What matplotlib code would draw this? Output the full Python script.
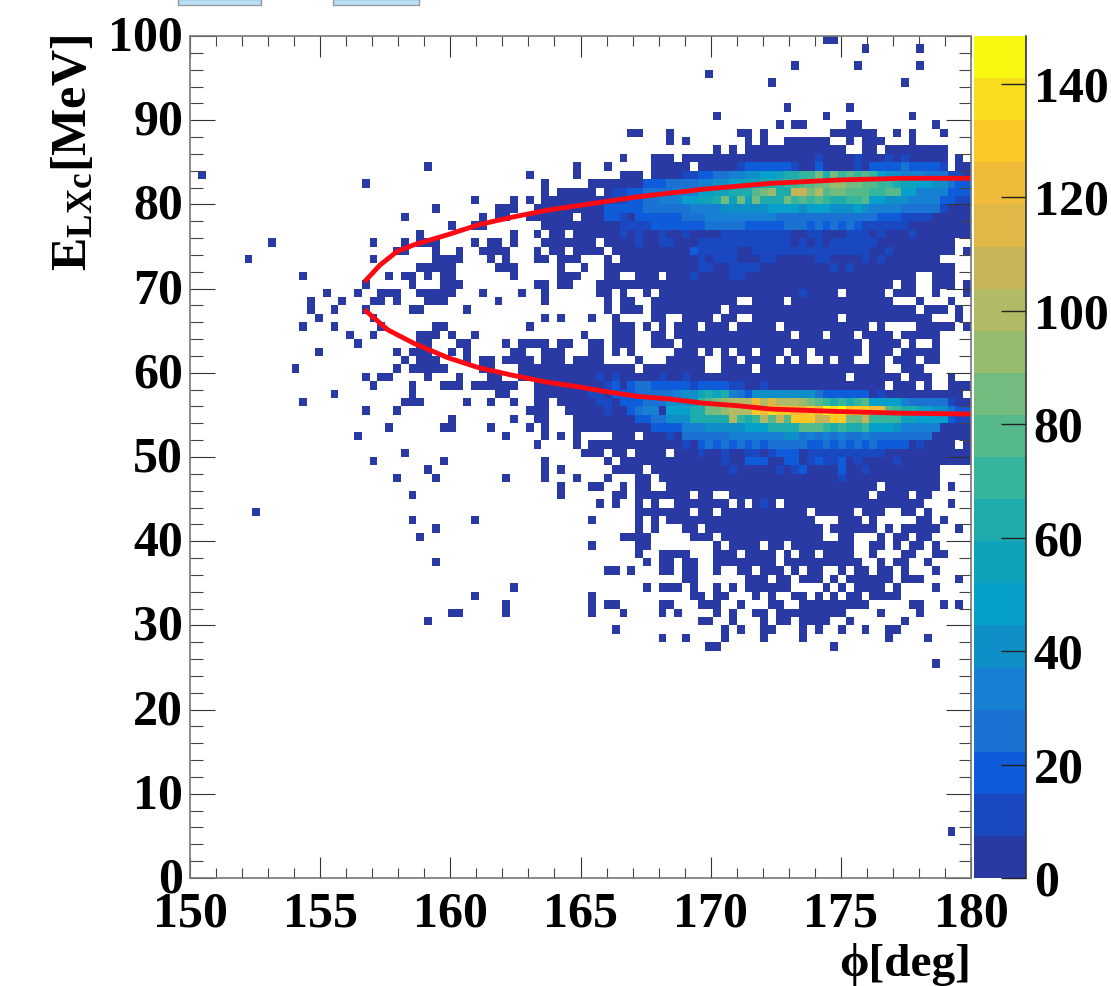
import matplotlib

matplotlib.use("Agg")
import matplotlib.pyplot as plt
import numpy as np
from matplotlib.colors import BoundaryNorm, ListedColormap
from matplotlib.patches import Rectangle
from matplotlib.transforms import ScaledTranslation

plt.rcParams["font.family"] = ["Liberation Serif", "DejaVu Serif"]
plt.rcParams["font.weight"] = "bold"
plt.rcParams["mathtext.fontset"] = "custom"
plt.rcParams["mathtext.rm"] = "Liberation Serif:bold"
plt.rcParams["mathtext.bf"] = "Liberation Serif:bold"

# palette bands, bottom to top
band_colors = [
    "#2a3aa5", "#1a48c0", "#0f5cdb", "#1a72d2", "#1681d3",
    "#0f8fc8", "#07a0cb", "#0ea3bb", "#1dabab", "#35b59b",
    "#55b98c", "#74bb80", "#97bc70", "#b2ba65", "#c9b358",
    "#e0b848", "#f0bb38", "#fcc826", "#f8dd1e", "#f8f810",
]
z_max = 148.4

phi_edges = np.linspace(150, 180, 101)
energy_edges = np.linspace(0, 100, 101)

# occupied bins per energy row (1 MeV), column index of 0.3 deg phi bins
occupied = {
    99: "81-82", 98: "86 93", 96: "77 85 93", 95: "66", 94: "74 91", 91: "76 84",
    90: "67 81 92", 89: "75 77-78 84-85 95",
    88: "56-57 61 70-71 73 82-87 90 92 96",
    87: "61 63 71 73 76-81 84 86-88 92",
    86: "67 69 71-83 86-87 89-96",
    85: "55 59-61 63-96 98",
    84: "30 49 53 59-63 65-96 98-99",
    83: "1 43 49 55-57 59-99",
    82: "22 45 51-99",
    81: "45 47 48-51 53-99",
    80: "36 41 43 45-47 48-98",
    79: "31 39-41 44-47 48-99",
    78: "27 37 39-40 43-47 48 50-99",
    77: "33 36-37 45-47 48-99",
    76: "29 41 44 46-47 49-99",
    75: "10 23 27 29-31 36 38-39 41 45-47 48-51 53-97",
    74: "26-27 31 34 37-40 44 46-47 49-52 54-97 99",
    73: "7 23 31-34 38 40 44-45 47 48-49 53 55-95",
    72: "29-33 39-41 47 50 53-97",
    71: "14 25 27-28 30 32-33 41 47 48-49 53-54 57-59 61-92 95-97",
    70: "22 28 32-34 44-45 47 48 52-89 91-92 95-97 99",
    69: "17 21 24-26 29-33 37 42 45 52-53 55 58 60-82 84-88 90-92 95 99",
    68: "15 19 23-24 26 30-32 39 45 53 55-56 59-69 72-75 77-89 93 97",
    67: "15 18 22 28-29 35 53 55-57 59-67 69-92 94-96 98",
    66: "16 23 45 47 51 54 59-60 63-66 68-69 72-82 84-94 98",
    65: "14 18 24 31-32 43 54-56 58 60 62-64 66-68 70-74 76-86 88 93-97 99",
    64: "20 23 29-31 33 36 50 54-56 59-60 62-76 78-80 82-84 86-89 91-95",
    63: "21 29-30 34-35 40 42-45 47-48 51-52 54-56 59-61 63-85 87-90 92 95",
    62: "16 26 28-30 33 35 41-42 45-47 51-52 54 56 62-64 66 68 70-71 73-75 77-78 80-85 87-89 91-95",
    61: "27 29-31 35 37-38 40-43 45-47 49-52 57 61-65 68-69 71-74 76 78 81 83-84 87-88 90-92 94-95",
    60: "13 26 28-32 37-38 42-47 48-56 58-65 68-71 73-88 91-93",
    59: "22 24-25 30 34 38-39 42-48 49-83 85-90 92-94 97",
    58: "23 28 32-34 36-41 44-47 48-88 90-92 94 97-99",
    57: "18 28 39-40 44-47 48-98",
    56: "14 27-29 35 38 41 44-45 47 48-99",
    55: "22 26 43-45 48-99",
    54: "33 41 44-45 49-99",
    53: "25 32-33 38 43 45 49-99",
    52: "21 40 45 47 49 54-56 58-99",
    51: "44 49 51-97 99",
    50: "27 50-52 54-55 57-60 62-99",
    49: "23 32 45 53 55-99",
    48: "30 45 47 54-57 59-95",
    47: "26 31 40 45 49 53 57-58 60-95",
    46: "47 51-52 55 57-58 61-87 89-95 97",
    45: "28 47 54-55 57-63 65-66 69-86 88-91 93-94",
    44: "52 54 57 59 62-68 70 72-74 76-93 97",
    43: "8 57-63 65-66 68-78 80-84 86-88 91-92 94",
    42: "28 36 51 57 59 61-79 83-85 87 93-94 96",
    41: "31 57 59 63-64 66-80 82-87 89 91-95 98",
    40: "29 55-58 64-66 68-80 83-84 88 90-91 93-94",
    39: "51 57-58 67 69-72 74-75 77-84 87-88 90 92-93 95",
    38: "57 60-63 67-69 71-74 76 78-79 81-84 87 91-92 95-96",
    37: "31 58 60-61 63-64 67-74 76-85 88 90-91 94",
    36: "53-54 56 60-61 63-64 67 70-71 73-75 77 79-80 83 85-86 88-89 91 95",
    35: "63-64 71-73 75-76 78-80 82 84-89 91-93 98",
    34: "41 58 60-62 64 67 69 71-76 81 83 85-88 90 95",
    33: "36 51 64-65 67-68 72 74 77-78 80 82 84-85 87-90",
    32: "40 51 53-54 60-61 65-67 70 74-75 78-86 92-93 96 98",
    31: "33-34 40 51 55 60 62 67 69 72-73 75-83 88 93",
    30: "30 65-66 69 73 75-76 78-81 84 91",
    29: "54 68 70 73-74 78 80 83 86 89-90",
    28: "60 63 68 73 78 89 94",
    27: "66-67 82",
    25: "95",
    5: "97",
}

# bins above the lowest palette band: row, first column, one band digit per column
ridge_cells = [
    (85, 80, "1"), (85, 85, "1"), (85, 89, "1"), (85, 91, "1"),
    (84, 70, "12222221"), (84, 80, "2"), (84, 85, "1"), (84, 87, "2222322221"),
    (83, 63, "11223344556678899b8b9a9a965544433311"),
    (82, 58, "22233334455677788899aabbccbbaa998776655322"),
    (81, 54, "112233334446677888abc88eebdabbaaa99aa664444222"),
    (80, 54, "11223344466778b7b7b888b9a9a98899a6655544442211"),
    (79, 53, "22222333333444455555566665666555654444333331"),
    (78, 53, "221022222233344444444433333333333332221111"),
    (77, 55, "1111222222233333222223332323232111111"),
    (76, 55, "1"), (76, 57, "1"), (76, 60, "1"), (76, 63, "1"), (76, 68, "111111111"),
    (76, 79, "11"), (76, 84, "111"), (76, 88, "1"), (76, 92, "1"),
    (75, 57, "1"), (75, 60, "11"), (75, 65, "111111111111"), (75, 78, "1"), (75, 80, "1"),
    (75, 82, "111111"),
    (74, 64, "211111"), (74, 72, "111111111111111"), (74, 89, "1"),
    (73, 65, "1"), (73, 67, "111"), (73, 73, "11"), (73, 80, "11"), (73, 86, "1"), (73, 88, "1"),
    (72, 65, "11"), (72, 69, "1111"), (72, 82, "1"), (72, 84, "1"),
    (71, 64, "1"), (71, 69, "11"), (69, 78, "1"),
    (59, 52, "1"), (59, 54, "1"), (59, 60, "1"), (59, 63, "1"),
    (58, 53, "12"), (58, 56, "2332"), (58, 60, "2222"), (58, 64, "1222211"), (58, 73, "1"),
    (57, 51, "11"), (57, 54, "22"), (57, 56, "23333"), (57, 61, "3455"), (57, 65, "7878"),
    (57, 69, "432"), (57, 72, "55555555"), (57, 80, "3222222"), (57, 88, "1"),
    (56, 52, "11"), (56, 55, "222333"), (56, 61, "5555"),
    (56, 65, "9abcdddgdfdddcba98989a6666433333"), (56, 97, "1"),
    (55, 53, "1"), (55, 56, "2344"), (55, 61, "66688bbcdddhgihhgghgjijhhhgg"),
    (55, 89, "a9887655322"),
    (54, 57, "223355588888d989dae"), (54, 76, "ahhheehhbbe9999776666211"),
    (53, 59, "222244455555666888" "8aaa989889666544444"),
    (52, 61, "1"), (52, 63, "333333"), (52, 69, "4444444"), (52, 76, "55"),
    (52, 78, "3434343343"), (52, 88, "3333333"),
    (51, 63, "1"), (51, 65, "2323232323"), (51, 75, "3333"), (51, 79, "2232323232222"), (51, 93, "1"),
    (50, 65, "1"), (50, 68, "1"), (50, 71, "11"), (50, 74, "1222"), (50, 79, "1111"), (50, 83, "111111"),
    (49, 68, "1"), (49, 71, "222"), (49, 76, "22"), (49, 79, "12112"), (49, 85, "1"), (49, 90, "1"),
    (48, 69, "1"), (48, 75, "1"), (48, 77, "12"), (48, 83, "2"), (48, 86, "1"),
    (47, 83, "1"), (44, 73, "1"),
]

# fitted curve, two branches
upper_phi = [156.7, 157.3, 157.95, 158.6, 159.9, 161.1, 162.4, 163.7, 165.0, 167.2, 169.7, 172.3, 174.9, 177.4, 180.0]
upper_energy = [70.8, 72.8, 74.4, 75.2, 76.4, 77.6, 78.5, 79.3, 79.9, 80.9, 81.8, 82.5, 82.9, 83.1, 83.1]
lower_phi = [156.7, 157.3, 157.6, 158.6, 159.9, 161.1, 162.4, 163.7, 165.0, 165.9, 167.2, 168.4, 169.7, 171.0, 172.3, 174.9, 177.4, 180.0]
lower_energy = [67.5, 65.9, 65.1, 63.5, 61.8, 60.6, 59.7, 58.9, 58.3, 57.8, 57.2, 56.9, 56.4, 56.1, 55.7, 55.4, 55.2, 55.1]

x_ticks = [150, 155, 160, 165, 170, 175, 180]
y_ticks = [0, 10, 20, 30, 40, 50, 60, 70, 80, 90, 100]
z_ticks = [0, 20, 40, 60, 80, 100, 120, 140]

band_width = z_max / len(band_colors)
counts = np.full((100, 100), np.nan)
for row, spec in occupied.items():
    for part in spec.split():
        first, _, last = part.partition("-")
        counts[row, int(first) : int(last or first) + 1] = 0.5 * band_width
for row, col, digits in ridge_cells:
    for offset, digit in enumerate(digits):
        if col + offset < 100:
            counts[row, col + offset] = (int(digit, 20) + 0.5) * band_width

W, H = 1111, 986
figure = plt.figure(figsize=(W / 100, H / 100), dpi=100)
axes = figure.add_axes([190 / W, 1 - 878 / H, 781 / W, 842 / H])

cmap = ListedColormap(band_colors)
norm = BoundaryNorm(np.linspace(0, z_max, len(band_colors) + 1), cmap.N)
mesh = axes.pcolormesh(phi_edges, energy_edges, counts, cmap=cmap, norm=norm, linewidth=0, rasterized=True)
axes.plot(upper_phi, upper_energy, color="#fb0a14", linewidth=3.5, solid_capstyle="butt")
axes.plot(lower_phi, lower_energy, color="#fb0a14", linewidth=3.5, solid_capstyle="butt")

axes.set_xlim(150, 180)
axes.set_ylim(0, 100)
axes.set_xticks(x_ticks)
axes.set_yticks(y_ticks)
axes.set_xticks(np.arange(150, 181, 1), minor=True)
axes.set_yticks(np.arange(0, 101, 2), minor=True)
axes.tick_params(axis="x", which="major", direction="in", top=True, length=15, width=0.8, color="#333333", labelsize=36, pad=10)
axes.tick_params(axis="x", which="minor", direction="in", top=True, length=7.5, width=0.8, color="#444444")
axes.tick_params(axis="y", which="major", direction="in", right=True, length=18, width=0.8, color="#333333", labelsize=36, pad=5)
axes.tick_params(axis="y", which="minor", direction="in", right=True, length=9, width=0.8, color="#444444")
for label in axes.get_yticklabels():
    label.set_transform(label.get_transform() + ScaledTranslation(0, 3 / 100, figure.dpi_scale_trans))
for side in axes.spines.values():
    side.set_color("#777777")
    side.set_linewidth(1.2)

cax = figure.add_axes([974 / W, 1 - 878 / H, 52 / W, 842 / H])
bar = figure.colorbar(mesh, cax=cax, ticks=z_ticks, spacing="proportional")
bar.outline.set_visible(False)
cax.tick_params(direction="in", right=True, length=18, width=1.0, color="#222222", labelsize=36, pad=5.5)
cax.minorticks_off()
cax.plot([1, 1], [0, 1], transform=cax.transAxes, color="#333333", linewidth=1.2, clip_on=False)

figure.text(971 / W, 1 - 986 / H, "\u03d5[deg]", ha="right", va="bottom", fontsize=34)
figure.text(74 / W, 1 - 35 / H, r"$\mathregular{E_{LXc}[MeV]}$", rotation=90, ha="center", va="top", fontsize=36)

# fragments of the neighbouring panel cut off at the top edge
for left, right in [(178, 261), (333, 419)]:
    figure.add_artist(Rectangle((left / W, 1 - 5 / H), (right - left) / W, 6 / H, transform=figure.transFigure,
                                facecolor="#b9e0fa", edgecolor="#9a9a9a", linewidth=1, clip_on=False))

figure.savefig("out.png", dpi=100)
